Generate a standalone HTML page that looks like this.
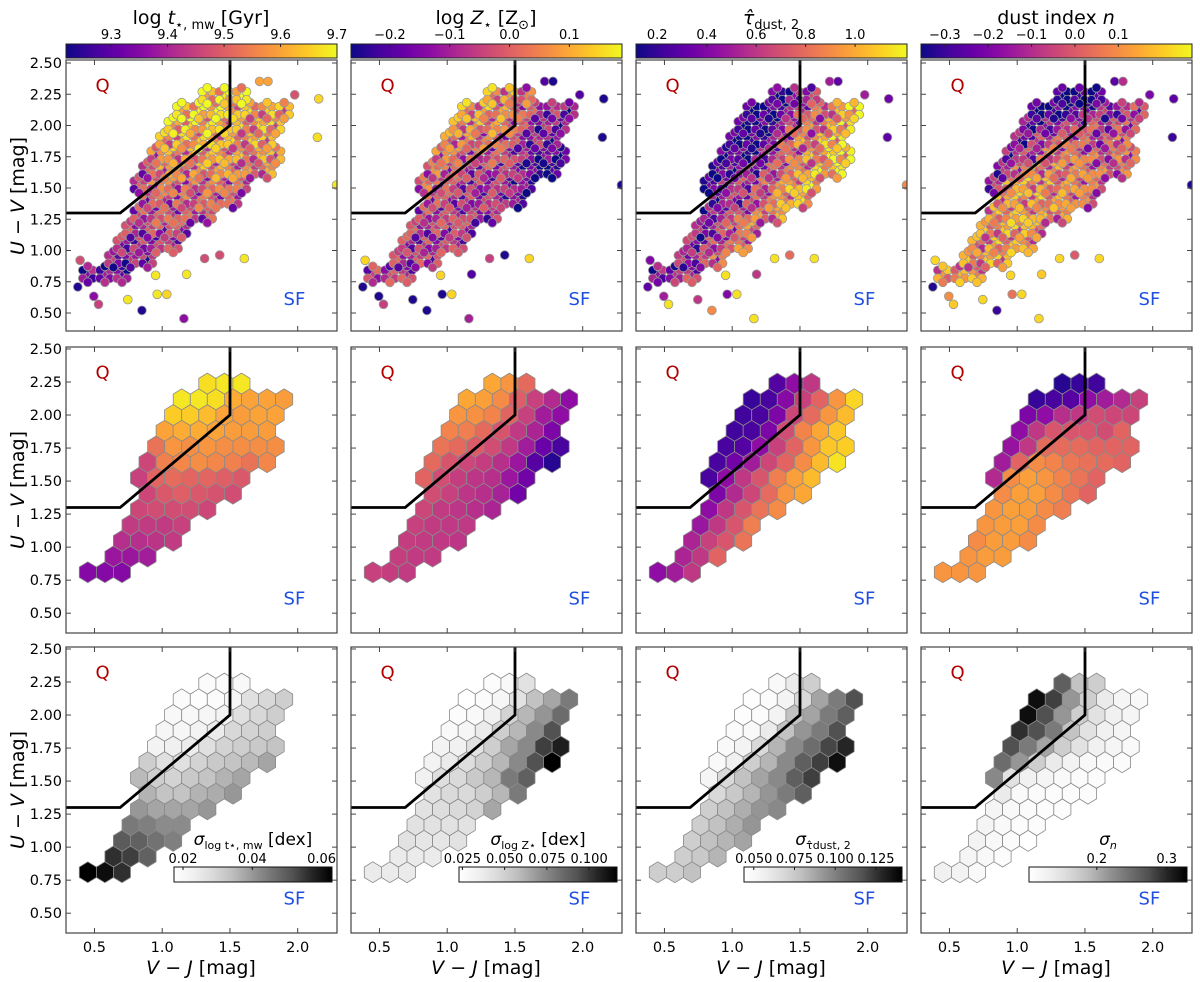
<!DOCTYPE html>
<html><head><meta charset="utf-8">
<style>
html,body{margin:0;padding:0;background:#fff;}
svg{display:block;font-family:"DejaVu Sans","Liberation Sans",sans-serif;}
</style></head>
<body>
<svg id="fig" width="1200" height="982" viewBox="0 0 1200 982" xmlns="http://www.w3.org/2000/svg">
<defs>
<linearGradient id="gPlasma" x1="0" x2="1" y1="0" y2="0">
<stop offset="0" stop-color="#0d0887"/><stop offset="0.1" stop-color="#41049d"/><stop offset="0.2" stop-color="#6a00a8"/><stop offset="0.3" stop-color="#8f0da4"/><stop offset="0.4" stop-color="#b12a90"/><stop offset="0.5" stop-color="#cc4778"/><stop offset="0.6" stop-color="#e16462"/><stop offset="0.7" stop-color="#f2844b"/><stop offset="0.8" stop-color="#fca636"/><stop offset="0.9" stop-color="#fcce25"/><stop offset="1" stop-color="#f0f921"/>
</linearGradient>
<linearGradient id="gGreys" x1="0" x2="1" y1="0" y2="0">
<stop offset="0" stop-color="#ffffff"/><stop offset="0.125" stop-color="#f0f0f0"/><stop offset="0.25" stop-color="#d9d9d9"/><stop offset="0.375" stop-color="#bdbdbd"/><stop offset="0.5" stop-color="#969696"/><stop offset="0.625" stop-color="#737373"/><stop offset="0.75" stop-color="#525252"/><stop offset="0.875" stop-color="#252525"/><stop offset="1" stop-color="#000000"/>
</linearGradient>
</defs>

<g font-size="19" text-anchor="middle" fill="#000">
<text x="201" y="24">log <tspan font-style="italic">t</tspan><tspan font-size="13" dy="5">⋆, mw</tspan><tspan dy="-5"> [Gyr]</tspan></text>
<text x="486" y="24">log <tspan font-style="italic">Z</tspan><tspan font-size="13" dy="5">⋆</tspan><tspan dy="-5"> [Z</tspan><tspan font-size="13" dy="5">⊙</tspan><tspan dy="-5">]</tspan></text>
<text x="771" y="24"><tspan font-style="italic">τ̂</tspan><tspan font-size="13" dy="5">dust, 2</tspan></text>
<text x="1056" y="24">dust index <tspan font-style="italic">n</tspan></text>
</g>

<g font-size="19" fill="#000" text-anchor="middle">
<text transform="translate(24,196) rotate(-90)"><tspan font-style="italic">U</tspan> − <tspan font-style="italic">V</tspan> [mag]</text>
<text transform="translate(24,490) rotate(-90)"><tspan font-style="italic">U</tspan> − <tspan font-style="italic">V</tspan> [mag]</text>
<text transform="translate(24,790) rotate(-90)"><tspan font-style="italic">U</tspan> − <tspan font-style="italic">V</tspan> [mag]</text>
<text x="201" y="974"><tspan font-style="italic">V</tspan> − <tspan font-style="italic">J</tspan> [mag]</text>
<text x="486" y="974"><tspan font-style="italic">V</tspan> − <tspan font-style="italic">J</tspan> [mag]</text>
<text x="771" y="974"><tspan font-style="italic">V</tspan> − <tspan font-style="italic">J</tspan> [mag]</text>
<text x="1056" y="974"><tspan font-style="italic">V</tspan> − <tspan font-style="italic">J</tspan> [mag]</text>
</g>
</svg>

<script>
// ---------- data ----------
const xTicks = [0.5, 1.0, 1.5, 2.0];
const xTickLabels = ["0.5", "1.0", "1.5", "2.0"];
const yTicks = [0.5, 0.75, 1.0, 1.25, 1.5, 1.75, 2.0, 2.25, 2.5];
const yTickLabels = ["0.50", "0.75", "1.00", "1.25", "1.50", "1.75", "2.00", "2.25", "2.50"];

// UVJ quiescent boundary vertices
const boundaryX = [0.0, 0.69, 1.5, 1.5];
const boundaryY = [1.3, 1.3, 2.0, 3.0];

// hexbin cells: half-column indices per row (row 0 = bottom)
const cellRows = [
  [0,2,4],[3,5,7],[4,6,8,10],[5,7,9,11],[6,8,10,12,14],[7,9,11,13,15,17],
  [6,8,10,12,14,16,18],[7,9,11,13,15,17,19,21],[8,10,12,14,16,18,20,22],
  [9,11,13,15,17,19,21],[10,12,14,16,18,20,22],[11,13,15,17,19,21,23],[14,16,18]
];

const ageMean = [
 9.35,9.35,9.35, 9.38,9.38,9.39, 9.42,9.42,9.43,9.44, 9.44,9.44,9.44,9.45,
 9.46,9.47,9.47,9.47,9.46, 9.46,9.49,9.50,9.49,9.48,9.47,
 9.45,9.51,9.52,9.51,9.51,9.50,9.49, 9.46,9.55,9.56,9.57,9.56,9.55,9.53,9.56,
 9.53,9.58,9.57,9.58,9.57,9.57,9.57,9.57, 9.60,9.61,9.61,9.60,9.59,9.59,9.59,
 9.65,9.65,9.63,9.60,9.59,9.60,9.60, 9.68,9.68,9.67,9.61,9.60,9.60,9.59, 9.67,9.68,9.68];
const metMean = [
 -0.048,-0.052,-0.057, -0.052,-0.057,-0.057, -0.052,-0.057,-0.061,-0.066, -0.048,-0.057,-0.061,-0.061,
 -0.040,-0.057,-0.066,-0.075,-0.093, -0.029,-0.048,-0.066,-0.075,-0.097,-0.165,
 0.007,-0.029,-0.052,-0.066,-0.075,-0.115,-0.165, 0.016,-0.016,-0.040,-0.052,-0.075,-0.115,-0.197,-0.242,
 0.029,0.016,-0.007,-0.029,-0.061,-0.106,-0.174,-0.211, 0.052,0.043,0.016,-0.016,-0.061,-0.093,-0.152,
 0.075,0.070,0.052,0.007,-0.048,-0.106,-0.129, 0.097,0.088,0.061,-0.002,-0.048,-0.084,-0.129, 0.097,0.075,0.016];
const tauMean = [
 0.443,0.498,0.607, 0.531,0.607,0.772, 0.531,0.640,0.717,0.826, 0.476,0.607,0.717,0.859,
 0.443,0.607,0.717,0.826,0.903, 0.388,0.552,0.662,0.794,0.936,0.991,
 0.246,0.443,0.607,0.717,0.859,0.969,1.046, 0.246,0.355,0.498,0.662,0.772,0.903,1.046,1.155,
 0.246,0.278,0.443,0.640,0.772,0.936,1.078,1.100, 0.224,0.246,0.388,0.684,0.881,0.991,1.078,
 0.224,0.246,0.388,0.662,0.794,0.936,1.046, 0.202,0.246,0.421,0.640,0.772,0.936,1.122, 0.278,0.443,0.607];
const nMean = [
 0.114,0.114,0.114, 0.114,0.126,0.126, 0.095,0.126,0.126,0.095, 0.114,0.126,0.133,0.095,
 0.114,0.133,0.126,0.095,0.070, 0.095,0.133,0.133,0.095,0.058,0.020,
 -0.105,0.095,0.133,0.114,0.083,0.051,0.020, -0.136,0.020,0.095,0.083,0.058,0.045,0.033,0.020,
 -0.155,-0.074,0.033,0.033,0.033,0.020,0.020,0.020, -0.168,-0.074,-0.011,-0.011,-0.011,-0.030,0.020,
 -0.199,-0.168,-0.093,-0.074,-0.030,-0.043,-0.043, -0.305,-0.280,-0.261,-0.168,-0.136,-0.105,-0.055, -0.324,-0.305,-0.293];

const ageSig = [
 0.063,0.061,0.056, 0.056,0.054,0.049, 0.050,0.049,0.046,0.044, 0.045,0.044,0.042,0.042,
 0.040,0.038,0.038,0.038,0.040, 0.036,0.033,0.033,0.036,0.037,0.040,
 0.035,0.031,0.030,0.032,0.033,0.036,0.038, 0.031,0.027,0.027,0.030,0.032,0.033,0.035,0.038,
 0.022,0.023,0.024,0.027,0.030,0.031,0.032,0.033, 0.021,0.021,0.022,0.024,0.029,0.030,0.031,
 0.020,0.020,0.021,0.022,0.027,0.029,0.031, 0.019,0.018,0.019,0.021,0.027,0.029,0.031, 0.019,0.019,0.020];
const metSig = [
 0.037,0.037,0.037, 0.037,0.037,0.037, 0.042,0.040,0.040,0.042, 0.042,0.042,0.042,0.042,
 0.042,0.044,0.046,0.049,0.065, 0.042,0.046,0.046,0.051,0.060,0.079,
 0.034,0.044,0.046,0.053,0.060,0.079,0.088, 0.032,0.037,0.044,0.051,0.060,0.074,0.093,0.1165,
 0.032,0.034,0.042,0.051,0.065,0.074,0.098,0.107, 0.028,0.030,0.037,0.051,0.060,0.074,0.093,
 0.025,0.028,0.034,0.049,0.060,0.070,0.084, 0.023,0.026,0.030,0.042,0.056,0.065,0.079, 0.025,0.028,0.042];
const tauSig = [
 0.073,0.073,0.078, 0.073,0.075,0.083, 0.073,0.078,0.083,0.088, 0.073,0.078,0.085,0.093,
 0.073,0.078,0.085,0.093,0.097, 0.068,0.075,0.083,0.093,0.102,0.112,
 0.052,0.068,0.078,0.088,0.097,0.112,0.122, 0.049,0.056,0.073,0.083,0.097,0.112,0.122,0.136,
 0.049,0.054,0.068,0.083,0.097,0.107,0.120,0.129, 0.047,0.049,0.059,0.078,0.093,0.102,0.117,
 0.046,0.047,0.054,0.078,0.088,0.102,0.112, 0.046,0.047,0.054,0.068,0.088,0.102,0.117, 0.049,0.059,0.073];
const nSig = [
 0.130,0.126,0.114, 0.121,0.114,0.108, 0.126,0.117,0.110,0.103, 0.121,0.114,0.108,0.108,
 0.121,0.114,0.110,0.108,0.108, 0.137,0.114,0.110,0.108,0.108,0.108,
 0.227,0.148,0.130,0.121,0.114,0.110,0.108, 0.250,0.216,0.171,0.137,0.126,0.117,0.112,0.110,
 0.273,0.239,0.205,0.171,0.148,0.130,0.121,0.114, 0.295,0.273,0.239,0.182,0.148,0.130,0.121,
 0.318,0.273,0.216,0.171,0.148,0.130,0.121, 0.318,0.284,0.216,0.171,0.137,0.121,0.114, 0.261,0.182,0.171];

const outX = [0.377,0.495,0.530,0.746,0.850,1.160,0.951,0.963,1.034,1.180,1.606,1.424,2.145,2.155,1.978,2.286,1.719,1.781,0.394,1.313];
const outY = [0.709,0.634,0.570,0.607,0.521,0.455,0.802,0.650,0.650,0.810,0.936,0.963,1.906,2.214,2.246,1.524,2.353,2.353,0.922,0.936];
const outAge = [9.24,9.36,9.45,9.68,9.24,9.36,9.68,9.68,9.66,9.68,9.68,9.47,9.67,9.66,9.48,9.68,9.60,9.60,9.47,9.47];
const outMet = [-0.25,-0.25,-0.05,-0.25,-0.25,-0.10,0.15,-0.25,0.15,-0.20,0.15,-0.25,-0.25,-0.25,-0.20,-0.25,-0.20,-0.25,0.15,-0.05];
const outTau = [0.30,0.50,1.15,0.60,0.90,1.15,1.15,0.40,1.15,0.60,1.15,0.80,0.30,0.35,0.50,0.90,0.50,0.30,0.40,1.15];
const outN = [-0.33,0.10,0.20,0.22,-0.30,0.22,0.22,0.05,0.22,0.20,0.22,0.00,-0.30,-0.25,-0.20,-0.33,-0.25,-0.10,0.22,0.22];

const topDomains = [[9.22,9.70],[-0.265,0.188],[0.114,1.21],[-0.355,0.27]];
const topTicks = [[9.3,9.4,9.5,9.6,9.7],[-0.2,-0.1,0.0,0.1],[0.2,0.4,0.6,0.8,1.0],[-0.3,-0.2,-0.1,0.0,0.1]];
const topTickLabels = [["9.3","9.4","9.5","9.6","9.7"],["−0.2","−0.1","0.0","0.1"],["0.2","0.4","0.6","0.8","1.0"],["−0.3","−0.2","−0.1","0.0","0.1"]];
const sigDomains = [[0.0174,0.063],[0.023,0.1165],[0.044,0.141],[0.103,0.329]];
const sigTicks = [[0.02,0.04,0.06],[0.025,0.05,0.075,0.1],[0.05,0.075,0.1,0.125],[0.2,0.3]];
const sigTickLabels = [["0.02","0.04","0.06"],["0.025","0.050","0.075","0.100"],["0.050","0.075","0.100","0.125"],["0.2","0.3"]];

const meanSets = [ageMean, metMean, tauMean, nMean];
const sigSets = [ageSig, metSig, tauSig, nSig];
const outSets = [outAge, outMet, outTau, outN];

// ---------- layout ----------
const NS = 'http://www.w3.org/2000/svg';
const svg = document.getElementById('fig');
const colLeft = [66, 351, 636, 921], PW = 271;
const rowTop = [60, 347, 647], rowH = [271, 286, 286];
const rowYMax = [2.524, 2.515, 2.515], rowYMin = [0.356, 0.35, 0.35];
const XMIN = 0.29, XMAX = 2.29;
const HX0 = 0.451, HDX = 0.126, HY0 = 0.81, HDY = 0.119;
function sx(c, v) { return colLeft[c] + (v - XMIN) / (XMAX - XMIN) * PW; }
function sy(r, v) { return rowTop[r] + (rowYMax[r] - v) / (rowYMax[r] - rowYMin[r]) * rowH[r]; }

const plasmaStops = ['#0d0887','#41049d','#6a00a8','#8f0da4','#b12a90','#cc4778','#e16462','#f2844b','#fca636','#fcce25','#f0f921'];
const greyStops = ['#ffffff','#f0f0f0','#d9d9d9','#bdbdbd','#969696','#737373','#525252','#252525','#000000'];
function hex2rgb(h) { return [parseInt(h.substr(1,2),16), parseInt(h.substr(3,2),16), parseInt(h.substr(5,2),16)]; }
function cmap(stops, t) {
  t = Math.max(0, Math.min(1, t));
  const f = t * (stops.length - 1), i = Math.min(stops.length - 2, Math.floor(f)), u = f - i;
  const a = hex2rgb(stops[i]), b = hex2rgb(stops[i + 1]);
  return 'rgb(' + a.map((v, k) => Math.round(v + (b[k] - v) * u)).join(',') + ')';
}
function norm(d, v) { return (v - d[0]) / (d[1] - d[0]); }
function mk(tag, parent) { const e = document.createElementNS(NS, tag); parent.appendChild(e); return e; }

const cells = [];
cellRows.forEach((row, r) => row.forEach(c => cells.push([HX0 + c * HDX / 2, HY0 + r * HDY])));

function hexPath(pc, pr, cx, cy) {
  const hw = HDX / 2, h2 = HDY * 2 / 3, h4 = HDY / 3;
  const pts = [[cx + hw, cy - h4], [cx + hw, cy + h4], [cx, cy + h2], [cx - hw, cy + h4], [cx - hw, cy - h4], [cx, cy - h2]];
  return 'M' + pts.map(p => sx(pc, p[0]).toFixed(1) + ',' + sy(pr, p[1]).toFixed(1)).join('L') + 'Z';
}

const ditherT = [0.0, -0.32, 0.15, 0.08, -0.18, 0.12, -0.08];
const ditherPx = [[0,0],[-5,-4],[5,-4],[-5,4],[5,4],[0,-8],[0,8]];

for (let r = 0; r < 3; r++) {
  for (let c = 0; c < 4; c++) {
    const g = mk('g', svg);
    
    
    const L = colLeft[c], T = rowTop[r], PH = rowH[r];
    const cid = 'clip' + r + c;
    const cp = mk('clipPath', g); cp.setAttribute('id', cid);
    const cr = mk('rect', cp); cr.setAttribute('x', L); cr.setAttribute('y', T); cr.setAttribute('width', PW); cr.setAttribute('height', PH);
    const plot = mk('g', g); plot.setAttribute('clip-path', 'url(#' + cid + ')');
    
    

    if (r === 0) {
      const dom = topDomains[c], mean = meanSets[c];
      cells.forEach((p, i) => {
        for (let k = 0; k < 7; k++) {
          const dt = ditherT[(i * 3 + k) % 7];
          const t = norm(dom, mean[i]) + dt;
          const ci = mk('circle', plot);
          
          
          ci.setAttribute('cx', (sx(c, p[0]) + ditherPx[k][0]).toFixed(1));
          ci.setAttribute('cy', (sy(r, p[1]) + ditherPx[k][1]).toFixed(1));
          ci.setAttribute('r', 4.4);
          ci.setAttribute('fill', cmap(plasmaStops, t));
          ci.setAttribute('stroke', '#9a9a9a'); ci.setAttribute('stroke-width', 0.8);
        }
      });
      const ov = outSets[c];
      outX.forEach((x, i) => {
        const ci = mk('circle', plot);
        
        
        ci.setAttribute('cx', sx(c, x).toFixed(1)); ci.setAttribute('cy', sy(r, outY[i]).toFixed(1));
        ci.setAttribute('r', 4.4);
        ci.setAttribute('fill', cmap(plasmaStops, norm(dom, ov[i])));
        ci.setAttribute('stroke', '#9a9a9a'); ci.setAttribute('stroke-width', 0.8);
      });
    } else {
      const vals = r === 1 ? meanSets[c] : sigSets[c];
      const dom = r === 1 ? topDomains[c] : sigDomains[c];
      const stops = r === 1 ? plasmaStops : greyStops;
      cells.forEach((p, i) => {
        const h = mk('path', plot);
        
        
        h.setAttribute('d', hexPath(c, r, p[0], p[1]));
        h.setAttribute('fill', cmap(stops, norm(dom, vals[i])));
        h.setAttribute('stroke', '#8a8a8a'); h.setAttribute('stroke-width', 0.8);
      });
    }

    const bl = mk('polyline', plot);
    
    
    bl.setAttribute('points', boundaryX.map((x, i) => sx(c, x).toFixed(1) + ',' + sy(r, boundaryY[i]).toFixed(1)).join(' '));
    bl.setAttribute('fill', 'none'); bl.setAttribute('stroke', '#000'); bl.setAttribute('stroke-width', 2.8);

    const q = mk('text', g);
    
    
    q.setAttribute('x', sx(c, 0.56)); q.setAttribute('y', sy(r, 2.33) + 7);
    q.setAttribute('text-anchor', 'middle'); q.setAttribute('font-size', 18); q.setAttribute('fill', '#b00000');
    q.textContent = 'Q';
    const sf = mk('text', g);
    
    
    sf.setAttribute('x', sx(c, 1.976)); sf.setAttribute('y', sy(r, 0.62) + 7);
    sf.setAttribute('text-anchor', 'middle'); sf.setAttribute('font-size', 18); sf.setAttribute('fill', '#1f4fe0');
    sf.textContent = 'SF';

    const fr = mk('rect', g);
    
    
    fr.setAttribute('x', L); fr.setAttribute('y', T); fr.setAttribute('width', PW); fr.setAttribute('height', PH);
    fr.setAttribute('fill', 'none'); fr.setAttribute('stroke', '#444'); fr.setAttribute('stroke-width', 1.2);

    xTicks.forEach((v, i) => {
      const X = sx(c, v);
      [[T, T + 5], [T + PH, T + PH - 5]].forEach(s => {
        const tl = mk('line', g);
        
        
        tl.setAttribute('x1', X); tl.setAttribute('x2', X); tl.setAttribute('y1', s[0]); tl.setAttribute('y2', s[1]);
        tl.setAttribute('stroke', '#444'); tl.setAttribute('stroke-width', 1);
      });
      if (r === 2) {
        const lb = mk('text', g);
        
        
        lb.setAttribute('x', X); lb.setAttribute('y', T + PH + 19);
        lb.setAttribute('text-anchor', 'middle'); lb.setAttribute('font-size', 14.5);
        lb.textContent = xTickLabels[i];
      }
    });
    yTicks.forEach((v, i) => {
      const Y = sy(r, v);
      [[L, L + 5], [L + PW, L + PW - 5]].forEach(s => {
        const tl = mk('line', g);
        
        
        tl.setAttribute('x1', s[0]); tl.setAttribute('x2', s[1]); tl.setAttribute('y1', Y); tl.setAttribute('y2', Y);
        tl.setAttribute('stroke', '#444'); tl.setAttribute('stroke-width', 1);
      });
      if (c === 0) {
        const lb = mk('text', g);
        
        
        lb.setAttribute('x', L - 4); lb.setAttribute('y', Y + 5);
        lb.setAttribute('text-anchor', 'end'); lb.setAttribute('font-size', 14.5);
        lb.textContent = yTickLabels[i];
      }
    });
  }
}

for (let c = 0; c < 4; c++) {
  const L = colLeft[c];
  const cb = mk('rect', svg);
  
  
  cb.setAttribute('x', L); cb.setAttribute('y', 44); cb.setAttribute('width', PW); cb.setAttribute('height', 14);
  cb.setAttribute('fill', 'url(#gPlasma)'); cb.setAttribute('stroke', '#222'); cb.setAttribute('stroke-width', 1);
  topTicks[c].forEach((v, i) => {
    const X = L + norm(topDomains[c], v) * PW;
    const tk = mk('line', svg);
    
    
    tk.setAttribute('x1', X); tk.setAttribute('x2', X); tk.setAttribute('y1', 44); tk.setAttribute('y2', 47);
    tk.setAttribute('stroke', '#222');
    const lb = mk('text', svg);
    
    
    lb.setAttribute('x', X); lb.setAttribute('y', 39);
    lb.setAttribute('text-anchor', 'middle'); lb.setAttribute('font-size', 13);
    lb.textContent = topTickLabels[c][i];
  });
}

const sigTitles = [
  ['σ', 'log t⋆, mw', ' [dex]'],
  ['σ', 'log Z⋆', ' [dex]'],
  ['σ', 'τ̂dust, 2', ''],
  ['σ', 'n', '']
];
for (let c = 0; c < 4; c++) {
  const L = colLeft[c] + 108, W = 158, Y0 = rowTop[2] + 220;
  const cb = mk('rect', svg);
  
  
  cb.setAttribute('x', L); cb.setAttribute('y', Y0); cb.setAttribute('width', W); cb.setAttribute('height', 15);
  cb.setAttribute('fill', 'url(#gGreys)'); cb.setAttribute('stroke', '#111'); cb.setAttribute('stroke-width', 1);
  sigTicks[c].forEach((v, i) => {
    const X = L + norm(sigDomains[c], v) * W;
    const tk = mk('line', svg);
    
    
    tk.setAttribute('x1', X); tk.setAttribute('x2', X); tk.setAttribute('y1', Y0); tk.setAttribute('y2', Y0 + 3);
    tk.setAttribute('stroke', '#111');
    const lb = mk('text', svg);
    
    
    lb.setAttribute('x', X); lb.setAttribute('y', Y0 - 4);
    lb.setAttribute('text-anchor', 'middle'); lb.setAttribute('font-size', 13);
    lb.textContent = sigTickLabels[c][i];
  });
  const tt = mk('text', svg);
  
  
  tt.setAttribute('x', L + W / 2); tt.setAttribute('y', Y0 - 22);
  tt.setAttribute('text-anchor', 'middle'); tt.setAttribute('font-size', 17);
  const s1 = mk('tspan', tt); s1.setAttribute('font-style', 'italic'); s1.textContent = sigTitles[c][0];
  const s2 = mk('tspan', tt); s2.setAttribute('font-size', 11); s2.setAttribute('dy', 4);
  if (c === 3) s2.setAttribute('font-style', 'italic');
  s2.textContent = sigTitles[c][1];
  const s3 = mk('tspan', tt); s3.setAttribute('dy', -4); s3.textContent = sigTitles[c][2];
}
</script>
</body></html>
